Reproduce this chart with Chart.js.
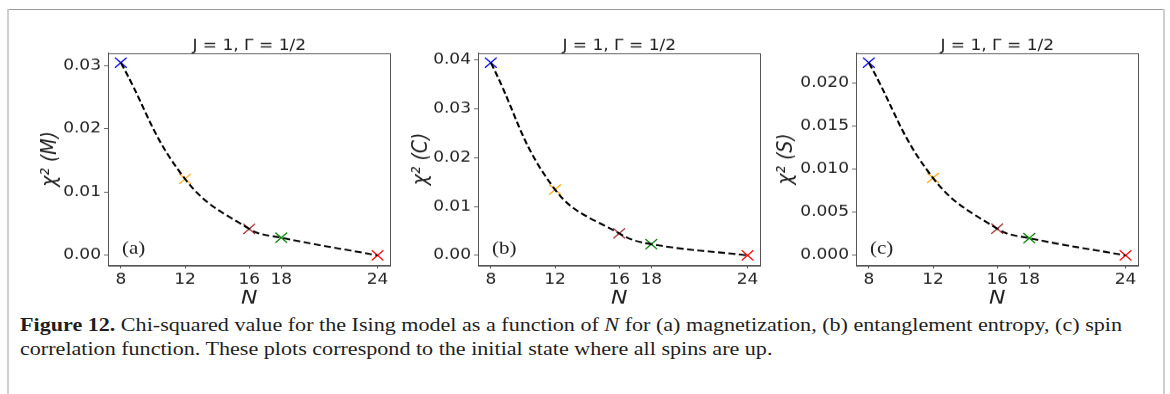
<!DOCTYPE html>
<html><head><meta charset="utf-8">
<script src="https://cdn.jsdelivr.net/npm/chart.js@4.4.0/dist/chart.umd.min.js"></script>
<style>
html,body{margin:0;padding:0;background:#fff;width:1170px;height:394px;overflow:hidden;position:relative;}
#frameTop{position:absolute;left:7px;top:9px;width:1158px;height:1px;background:#9a9a9a;}
#frameLeft{position:absolute;left:7px;top:9px;width:2px;height:385px;background:#cfcfcf;}
#frameRight{position:absolute;left:1163px;top:9px;width:2px;height:385px;background:#cfcfcf;}
.panel{position:absolute;top:0;width:400px;height:360px;transform:scaleY(0.86);transform-origin:0 0;}
.panel canvas{display:block;}
#caption{position:absolute;left:20px;top:313px;font-family:"Liberation Serif",serif;font-size:19px;color:#1e1e1e;white-space:nowrap;transform-origin:0 0;line-height:24px;}
#caption span{display:inline-block;}
</style></head>
<body>
<div id="frameTop"></div><div id="frameLeft"></div><div id="frameRight"></div>
<div id="caption"><div><span id="cap1"><b>Figure 12.</b> Chi-squared value for the Ising model as a function of <i>N</i> for (a) magnetization, (b) entanglement entropy, (c) spin</span></div><div><span>correlation function. These plots correspond to the initial state where all spins are up.</span></div></div>
<script>
// ---- data ----
const nValues = [8, 12, 16, 18, 24];
const xTicks = [8, 12, 16, 18, 24];
const chiM = [0.0305, 0.0121, 0.0042, 0.0028, 0.0000];
const chiC = [0.0395, 0.0135, 0.0045, 0.0023, 0.0000];
const chiS = [0.0224, 0.0090, 0.0031, 0.0020, 0.0000];
const yTicksM = [0, 0.01, 0.02, 0.03];
const yTickLabelsM = ['0.00', '0.01', '0.02', '0.03'];
const yTicksC = [0, 0.01, 0.02, 0.03, 0.04];
const yTickLabelsC = ['0.00', '0.01', '0.02', '0.03', '0.04'];
const yTicksS = [0, 0.005, 0.010, 0.015, 0.020];
const yTickLabelsS = ['0.000', '0.005', '0.010', '0.015', '0.020'];
const markerColors = ['#0000ff', '#ffa500', '#a52a2a', '#008000', '#ff0000'];
const panelTitle = 'J = 1, Γ = 1/2';

const S = 0.86;           // vertical squash of panels
const W = 400, H = 360;   // internal canvas size
const PLOT_LEFT = 108, PLOT_TOP = 53 / S, PLOT_BOTTOM = 265 / S;

const boxPlugin = {
  id: 'box',
  afterDraw(chart) {
    const {ctx, chartArea: a} = chart;
    ctx.save();
    ctx.strokeStyle = '#555';
    ctx.lineWidth = 1;
    ctx.strokeRect(Math.round(a.left) + 0.5, Math.round(a.top) + 0.5, Math.round(a.right - a.left), Math.round(a.bottom - a.top));
    ctx.restore();
  }
};

function makePanel(left, values, yTicks, yLabels, yTitle, letter, ylabOffset) {
  const div = document.createElement('div');
  div.className = 'panel';
  div.style.left = left + 'px';
  const cv = document.createElement('canvas');
  cv.width = W; cv.height = H;
  div.appendChild(cv);
  document.body.appendChild(div);

  const yFont = 22, yLH = yFont * 1.2;
  const padLeft = PLOT_LEFT - ylabOffset - yLH / 2;
  const tFont = 17, tLH = tFont * 1.2;
  const xAxisH = H - PLOT_BOTTOM;
  const maxV = Math.max(...values);
  const pts = nValues.map((n, i) => ({x: n, y: values[i]}));

  const letterPlugin = {
    id: 'letter',
    afterDraw(chart) {
      const {ctx, chartArea: a} = chart;
      ctx.save();
      ctx.font = '21px "Liberation Serif"';
      ctx.fillStyle = '#222';
      ctx.textBaseline = 'middle';
      ctx.textAlign = 'left';
      ctx.fillText(letter, a.left + 14, a.bottom - 19);
      ctx.restore();
    }
  };

  new Chart(cv, {
    type: 'scatter',
    data: {
      datasets: [
        {data: pts, xAxisID: 'x', yAxisID: 'y', showLine: true, borderColor: '#000', borderWidth: 2.1,
         borderDash: [7, 3.5], pointRadius: 0, tension: 0.42, fill: false},
        {data: pts, xAxisID: 'x', yAxisID: 'y', showLine: false, pointStyle: 'crossRot', pointRadius: 8.3,
         pointHoverRadius: 8.3, pointBorderWidth: 1.3, pointBorderColor: markerColors,
         pointBackgroundColor: markerColors}
      ]
    },
    options: {
      responsive: false, animation: false, devicePixelRatio: 1,
      layout: {padding: {left: padLeft, top: 0, right: 9, bottom: 0}},
      plugins: {legend: {display: false}, tooltip: {enabled: false}, title: {display: false}},
      scales: {
        x: {
          type: 'linear', position: 'bottom', min: 7.2, max: 24.8,
          afterBuildTicks: sc => { sc.ticks = xTicks.map(v => ({value: v})); },
          afterFit: sc => { sc.height = xAxisH; },
          ticks: {color: '#222', padding: 3, maxRotation: 0, autoSkip: false,
                  font: {family: 'DejaVu Sans', size: 17}, callback: v => String(v)},
          grid: {drawOnChartArea: false, drawTicks: true, tickLength: 4, color: '#555'},
          border: {color: '#555', width: 1},
          title: {display: true, text: 'N', color: '#222', padding: 0,
                  font: {family: 'DejaVu Sans', size: 22, style: 'italic', lineHeight: 1.2}}
        },
        x2: {
          type: 'linear', position: 'top', min: 7.2, max: 24.8,
          afterFit: sc => { sc.height = PLOT_TOP; },
          ticks: {display: false},
          grid: {display: false, drawTicks: false},
          border: {display: false},
          title: {display: true, text: panelTitle, color: '#222', padding: {top: 53.5 - tLH / 2, bottom: 0},
                  font: {family: 'DejaVu Sans', size: tFont, lineHeight: 1.2}}
        },
        y: {
          type: 'linear', min: -0.05 * maxV, max: 1.05 * maxV,
          afterBuildTicks: sc => { sc.ticks = yTicks.map(v => ({value: v})); },
          afterFit: sc => { sc.width = PLOT_LEFT - padLeft; },
          ticks: {color: '#222', padding: 3, autoSkip: false,
                  font: {family: 'DejaVu Sans', size: 17}, callback: (v, i) => yLabels[i]},
          grid: {drawOnChartArea: false, drawTicks: true, tickLength: 4, color: '#555'},
          border: {color: '#555', width: 1},
          title: {display: true, text: yTitle, color: '#222', padding: 0,
                  font: {family: 'DejaVu Sans', size: yFont, style: 'italic', lineHeight: 1.2}}
        }
      }
    },
    plugins: [boxPlugin, letterPlugin]
  });
}

makePanel(0, chiM, yTicksM, yTickLabelsM, 'χ² (M)', '(a)', 58);
makePanel(370.3, chiC, yTicksC, yTickLabelsC, 'χ² (C)', '(b)', 57);
makePanel(748, chiS, yTicksS, yTickLabelsS, 'χ² (S)', '(c)', 69.5);

// fit caption width to reference
const w1 = document.getElementById('cap1').getBoundingClientRect().width;
document.getElementById('caption').style.transform = 'scaleX(' + (1102 / w1) + ')';
</script>
</body></html>
